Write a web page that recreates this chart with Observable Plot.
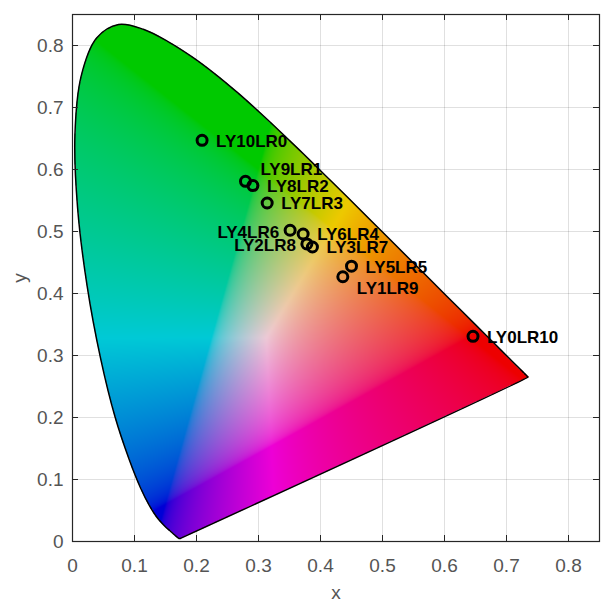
<!DOCTYPE html>
<html>
<head>
<meta charset="utf-8">
<script src="https://cdn.jsdelivr.net/npm/d3@7"></script>
<script src="https://cdn.jsdelivr.net/npm/@observablehq/plot@0.6"></script>
<style>
  html, body { margin: 0; padding: 0; background: #fff; }
  #chart { width: 601px; height: 601px; }
</style>
</head>
<body>
<div id="chart"></div>
<script>
// CIE 1931 2° spectral locus (380–700 nm, 5 nm steps)
const locusX = [0.1741,0.1740,0.1738,0.1736,0.1733,0.1730,0.1726,0.1721,0.1714,0.1703,0.1689,0.1669,0.1644,0.1611,0.1566,0.1510,0.1440,0.1355,0.1241,0.1096,0.0913,0.0687,0.0454,0.0235,0.0082,0.0039,0.0139,0.0389,0.0743,0.1142,0.1547,0.1929,0.2296,0.2658,0.3016,0.3373,0.3731,0.4087,0.4441,0.4788,0.5125,0.5448,0.5752,0.6029,0.6270,0.6482,0.6658,0.6801,0.6915,0.7006,0.7079,0.7140,0.7190,0.7230,0.7260,0.7283,0.7300,0.7311,0.7320,0.7327,0.7334,0.7340,0.7344,0.7346,0.7347];
const locusY = [0.0050,0.0050,0.0049,0.0049,0.0048,0.0048,0.0048,0.0048,0.0051,0.0058,0.0069,0.0086,0.0109,0.0138,0.0177,0.0227,0.0297,0.0399,0.0578,0.0868,0.1327,0.2007,0.2950,0.4127,0.5384,0.6548,0.7502,0.8120,0.8338,0.8262,0.8059,0.7816,0.7543,0.7243,0.6923,0.6589,0.6245,0.5896,0.5547,0.5202,0.4866,0.4544,0.4242,0.3965,0.3725,0.3514,0.3340,0.3197,0.3083,0.2993,0.2920,0.2859,0.2809,0.2770,0.2740,0.2717,0.2700,0.2689,0.2680,0.2673,0.2666,0.2660,0.2656,0.2654,0.2653];

// Measured points
const pointNames = ["LY10LR0","LY9LR1","LY8LR2","LY7LR3","LY6LR4","LY5LR5","LY4LR6","LY3LR7","LY2LR8","LY1LR9","LY0LR10"];
const pointX = [0.209,0.279,0.291,0.314,0.372,0.450,0.351,0.387,0.378,0.436,0.646];
const pointY = [0.647,0.581,0.574,0.546,0.496,0.444,0.502,0.475,0.480,0.427,0.331];

const xTicks = [0,0.1,0.2,0.3,0.4,0.5,0.6,0.7,0.8];
const yTicks = [0,0.1,0.2,0.3,0.4,0.5,0.6,0.7,0.8];

const locus = locusX.map((x, i) => ({x, y: locusY[i]}));
const closedLocus = [...locus, locus[0]];
const points = pointNames.map((name, i) => ({name, x: pointX[i], y: pointY[i]}));

// Smooth mask of the horseshoe (same curve as the outline)
const S = 10000;
const maskPath = new Path2D(
  d3.line().curve(d3.curveCatmullRom)(closedLocus.map(d => [d.x * S, d.y * S])) + "Z"
);
const maskCtx = document.createElement("canvas").getContext("2d");

function gamma(c) {
  return c <= 0.0031308 ? 12.92 * c : 1.055 * Math.pow(c, 1 / 2.4) - 0.055;
}
const shadeR = 0.93, shadeG = 0.79, shadeB = 0.84;
function chromaColor(x, y) {
  if (!maskCtx.isPointInPath(maskPath, x * S, y * S)) return null;
  const yy = Math.max(y, 1e-4);
  const X = x / yy, Y = 1, Z = (1 - x - y) / yy;
  let r = 3.2406 * X - 1.5372 * Y - 0.4986 * Z;
  let g = -0.9689 * X + 1.8758 * Y + 0.0415 * Z;
  let b = 0.0557 * X - 0.2040 * Y + 1.0570 * Z;
  r = Math.max(r, 0); g = Math.max(g, 0); b = Math.max(b, 0);
  const m = Math.max(r, g, b) || 1;
  r /= m; g /= m; b /= m;
  return d3.rgb(255 * shadeR * gamma(r), 255 * shadeG * gamma(g), 255 * shadeB * gamma(b)).formatHex();
}

const W = 601, H = 601;
const mTop = 14, mBottom = 60, mLeft = 72, mRight = 2;
const innerH = H - mTop - mBottom;
const innerW = W - mLeft - mRight;
const tickLen = 6;
const labelFont = {fontSize: 17, fontWeight: "bold", fill: "#000"};

const chart = Plot.plot({
  width: W,
  height: H,
  marginTop: mTop,
  marginBottom: mBottom,
  marginLeft: mLeft,
  marginRight: mRight,
  style: {fontFamily: "'Liberation Sans', Arial, sans-serif", background: "#fff"},
  x: {domain: [0, 0.85]},
  y: {domain: [0, 0.85]},
  color: {type: "identity"},
  marks: [
    Plot.gridX(xTicks, {stroke: "#000", strokeOpacity: 0.12}),
    Plot.gridY(yTicks, {stroke: "#000", strokeOpacity: 0.12}),
    Plot.raster({x1: 0, y1: 0, x2: 0.85, y2: 0.85, fill: chromaColor, pixelSize: 1}),
    Plot.line(closedLocus, {x: "x", y: "y", curve: "catmull-rom", stroke: "#000", strokeWidth: 1.5}),
    Plot.dot(points, {x: "x", y: "y", r: 5, stroke: "#000", strokeWidth: 3, fill: "none"}),
    Plot.text(points.filter(d => !["LY4LR6","LY2LR8","LY9LR1","LY1LR9"].includes(d.name)), {
      x: "x", y: "y", text: "name", textAnchor: "start", dx: 14, dy: 1, ...labelFont
    }),
    Plot.text(points.filter(d => ["LY4LR6","LY2LR8"].includes(d.name)), {
      x: "x", y: "y", text: "name", textAnchor: "end", dx: -11, dy: 2, ...labelFont
    }),
    Plot.text(points.filter(d => d.name === "LY9LR1"), {
      x: "x", y: "y", text: "name", textAnchor: "start", dx: 15, dy: -12, ...labelFont
    }),
    Plot.text(points.filter(d => d.name === "LY1LR9"), {
      x: "x", y: "y", text: "name", textAnchor: "start", dx: 14, dy: 12, ...labelFont
    }),
    // inward ticks (bottom, top, left, right)
    Plot.ruleX(xTicks, {x: d => d, insetTop: innerH - tickLen, stroke: "#262626"}),
    Plot.ruleX(xTicks, {x: d => d, insetBottom: innerH - tickLen, stroke: "#262626"}),
    Plot.ruleY(yTicks, {y: d => d, insetRight: innerW - tickLen, stroke: "#262626"}),
    Plot.ruleY(yTicks, {y: d => d, insetLeft: innerW - tickLen, stroke: "#262626"}),
    Plot.frame({stroke: "#262626", strokeWidth: 1.2}),
    Plot.axisX(xTicks, {
      tickSize: 0, tickPadding: 17, fontSize: 19, fill: "#555",
      tickFormat: d => String(d),
      label: "x", labelAnchor: "center", labelArrow: "none", labelOffset: 57
    }),
    Plot.axisY(yTicks, {
      tickSize: 0, tickPadding: 9, fontSize: 19, fill: "#555",
      tickFormat: d => String(d),
      label: "y", labelAnchor: "center", labelArrow: "none", labelOffset: 60
    })
  ]
});
document.getElementById("chart").appendChild(chart);
</script>
</body>
</html>
